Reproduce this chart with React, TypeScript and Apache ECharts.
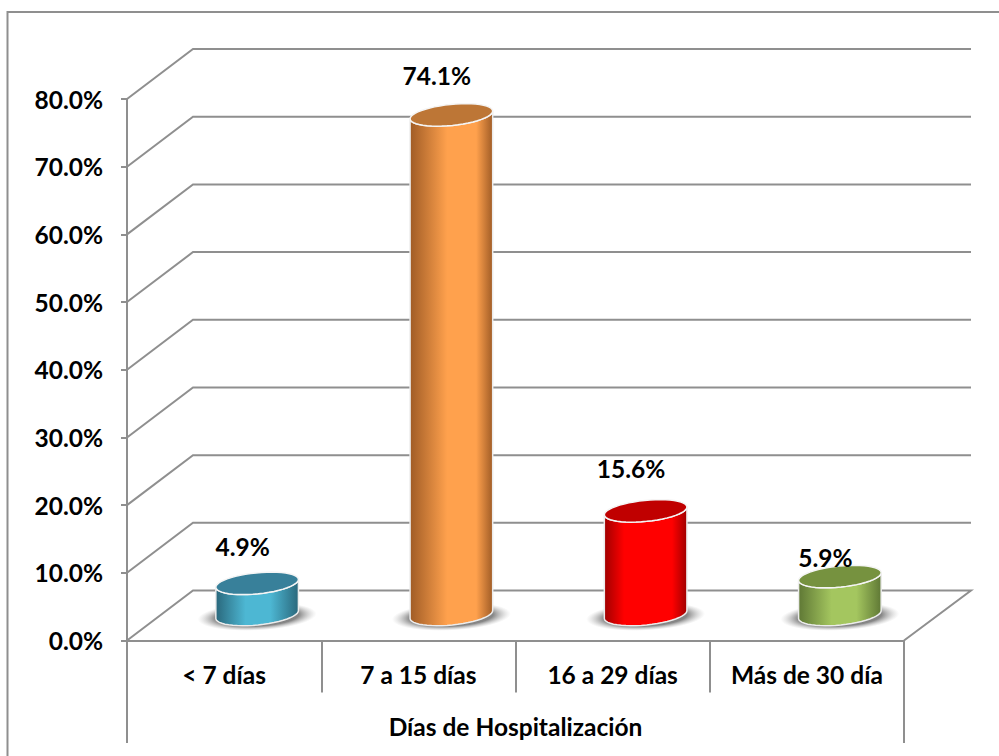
import React, { useEffect, useRef } from "react";
import * as echarts from "echarts";

const categories = ["< 7 días", "7 a 15 días", "16 a 29 días", "Más de 30 día"];
const values = [4.9, 74.1, 15.6, 5.9];
const valueLabels = ["4.9%", "74.1%", "15.6%", "5.9%"];
const wallTicks = [10, 20, 30, 40, 50, 60, 70, 80];
const labelLift = [37, 39, 42, 19];
const axisTitle = "Días de Hospitalización";

const palette = [
  { edge: "#2a687c", mid: "#4db7d3", top: "#38809a", band: [0.36, 0.66] },
  { edge: "#a05c26", mid: "#ffa14d", top: "#bd7636", band: [0.45, 0.8] },
  { edge: "#a00000", mid: "#ff0000", top: "#c00000", band: [0.24, 0.82] },
  { edge: "#5f7835", mid: "#a4c65f", top: "#76923f", band: [0.4, 0.7] },
];

const FONT = "Lato, Carlito, sans-serif";
const FONT_SIZE = 24.5;
const GRID_COLOR = "#8f8f8f";
const GRID = { left: 127, right: 904, top: 99, bottom: 640.5 };
// Offset of the rear wall from the front plane of the box.
const DEPTH_X = 66;
const DEPTH_Y = 50;
const RX = 41.5;
const RY = 10.5;
const TILT = 0.1;

// Point on a tilted ellipse, measured from its centre.
const onEllipse = (cx: number, cy: number, t: number): [number, number] => {
  const ex = RX * Math.cos(t);
  const ey = RY * Math.sin(t);
  return [cx + ex * Math.cos(TILT) + ey * Math.sin(TILT), cy - ex * Math.sin(TILT) + ey * Math.cos(TILT)];
};

const ellipsePath = (cx: number, cy: number) => {
  const pts: string[] = [];
  for (let i = 0; i <= 48; i++) {
    const [x, y] = onEllipse(cx, cy, (i / 48) * Math.PI * 2);
    pts.push(`${i ? "L" : "M"}${x.toFixed(2)} ${y.toFixed(2)}`);
  }
  return pts.join("") + "Z";
};

// Side of the cylinder: the lower half of the base outline joined to the top outline.
const bodyPath = (cx: number, topY: number, baseY: number) => {
  const pts: string[] = [];
  for (let i = 0; i <= 24; i++) {
    const [x, y] = onEllipse(cx, baseY, (i / 24) * Math.PI);
    pts.push(`${i ? "L" : "M"}${x.toFixed(2)} ${y.toFixed(2)}`);
  }
  for (let i = 24; i >= 0; i--) {
    const [x, y] = onEllipse(cx, topY, (i / 24) * Math.PI);
    pts.push(`L${x.toFixed(2)} ${y.toFixed(2)}`);
  }
  return pts.join("") + "Z";
};

const renderWall = (_: any, api: any) => {
  const [, y] = api.coord([0, api.value(0)]);
  return {
    type: "polyline",
    shape: {
      points: [
        [GRID.left, y],
        [GRID.left + DEPTH_X, y - DEPTH_Y],
        [GRID.right + DEPTH_X + 1, y - DEPTH_Y],
      ],
    },
    style: { stroke: GRID_COLOR, lineWidth: 2, fill: "none" },
    silent: true,
  };
};

const renderFloor = (_: any, api: any) => {
  const [, y] = api.coord([0, 0]);
  return {
    type: "polyline",
    shape: {
      points: [
        [GRID.left, y],
        [GRID.left + DEPTH_X, y - DEPTH_Y],
        [GRID.right + DEPTH_X + 1, y - DEPTH_Y],
        [GRID.right, y],
      ],
    },
    style: { stroke: GRID_COLOR, lineWidth: 2, fill: "none" },
    silent: true,
  };
};

const renderCylinder = (params: any, api: any) => {
  const i = params.dataIndex;
  const [cx0, y0] = api.coord([i, 0]);
  const [, yv] = api.coord([i, api.value(1)]);
  const cx = cx0 + DEPTH_X / 2;
  const baseY = y0 - DEPTH_Y / 2 - 1;
  const topY = yv - DEPTH_Y / 2 + 1;
  const c = palette[i];
  return {
    type: "group",
    silent: true,
    children: [
      {
        type: "ellipse",
        x: cx,
        y: baseY + 2,
        rotation: TILT / 2,
        shape: { cx: 0, cy: 0, rx: RX + 18, ry: RY + 3.5 },
        style: {
          fill: new echarts.graphic.RadialGradient(0.5, 0.5, 0.5, [
            { offset: 0, color: "rgba(85,85,85,0.95)" },
            { offset: 0.7, color: "rgba(105,105,105,0.8)" },
            { offset: 1, color: "rgba(180,180,180,0)" },
          ]),
        },
      },
      {
        type: "path",
        shape: { pathData: bodyPath(cx, topY, baseY) },
        style: {
          fill: new echarts.graphic.LinearGradient(0, 0, 1, 0, [
            { offset: 0, color: c.edge },
            { offset: c.band[0], color: c.mid },
            { offset: c.band[1], color: c.mid },
            { offset: 1, color: c.edge },
          ]),
          stroke: "#ececec",
          lineWidth: 1.5,
        },
      },
      {
        type: "path",
        shape: { pathData: ellipsePath(cx, topY) },
        style: { fill: c.top, stroke: "#f5f5f5", lineWidth: 1.5 },
      },
      {
        type: "text",
        x: cx0 + 18.5,
        y: topY - labelLift[i],
        style: {
          text: valueLabels[i],
          font: `bold ${FONT_SIZE}px ${FONT}`,
          fill: "#000",
          align: "center",
          verticalAlign: "middle",
        },
      },
    ],
  };
};

export default function App() {
  const ref = useRef<HTMLDivElement>(null);

  useEffect(() => {
    const chart = echarts.init(ref.current!, undefined, { renderer: "svg" });
    chart.setOption({
      animation: false,
      backgroundColor: "#ffffff",
      grid: {
        left: GRID.left,
        top: GRID.top,
        width: GRID.right - GRID.left,
        height: GRID.bottom - GRID.top,
      },
      xAxis: {
        type: "category",
        data: categories,
        position: "bottom",
        axisLine: { lineStyle: { color: GRID_COLOR, width: 2 } },
        axisTick: { show: true, length: 52, lineStyle: { color: GRID_COLOR, width: 2 } },
        axisLabel: { interval: 0, margin: 21, color: "#000", fontFamily: FONT, fontWeight: "bold", fontSize: FONT_SIZE },
        name: axisTitle,
        nameLocation: "middle",
        nameGap: 73,
        nameTextStyle: { color: "#000", fontFamily: FONT, fontWeight: "bold", fontSize: FONT_SIZE },
      },
      yAxis: {
        type: "value",
        min: 0,
        max: 80,
        interval: 10,
        axisLine: { show: true, lineStyle: { color: GRID_COLOR, width: 2 } },
        axisTick: { show: true, length: 6, lineStyle: { color: GRID_COLOR, width: 2 } },
        splitLine: { show: false },
        axisLabel: {
          margin: 24,
          padding: [2, 0, 0, 0],
          color: "#000",
          fontFamily: FONT,
          fontWeight: "bold",
          fontSize: FONT_SIZE,
          formatter: (v: number) => `${v.toFixed(1)}%`,
        },
      },
      graphic: [
        // The frame runs off the right and bottom of the canvas.
        { type: "rect", shape: { x: 7.5, y: 12, width: 1100, height: 800 }, style: { fill: "none", stroke: "#8f8f8f", lineWidth: 2 }, silent: true, z: 0 },
        { type: "line", shape: { x1: GRID.left, y1: GRID.bottom, x2: GRID.left, y2: 743 }, style: { stroke: GRID_COLOR, lineWidth: 2 }, silent: true },
        { type: "line", shape: { x1: GRID.right, y1: GRID.bottom, x2: GRID.right, y2: 743 }, style: { stroke: GRID_COLOR, lineWidth: 2 }, silent: true },
      ],
      series: [
        { type: "custom", renderItem: renderWall, data: wallTicks.map((t) => [t]), encode: { y: 0 }, silent: true, z: 1, clip: false },
        { type: "custom", renderItem: renderFloor, data: [[0]], silent: true, z: 1, clip: false },
        {
          type: "custom",
          renderItem: renderCylinder,
          data: values.map((v, i) => [i, v]),
          encode: { x: 0, y: 1 },
          silent: true,
          z: 3,
          clip: false,
        },
      ],
    });
    return () => chart.dispose();
  }, []);

  return <div ref={ref} style={{ position: "absolute", left: 0, top: 0, width: 999, height: 756 }} />;
}
